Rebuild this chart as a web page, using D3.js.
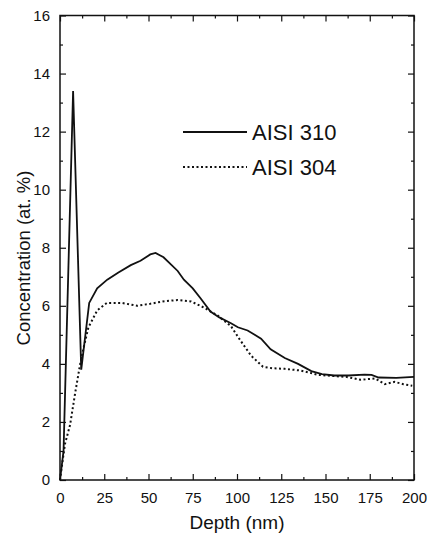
<!DOCTYPE html>
<html lang="en">
<head>
<meta charset="utf-8">
<title>Concentration vs depth</title>
<script src="https://d3js.org/d3.v7.min.js"></script>
<style>
  body { margin: 0; background: #fff; }
  svg text { font-family: "Liberation Sans", Arial, sans-serif; fill: #111; }
</style>
</head>
<body>
<script>
// data
const depth310 = [0, 2, 7.4, 12, 16.5, 21, 26.7, 33, 40, 45.5, 51, 54, 58.5, 66.5, 70, 75, 79.5, 85, 90, 96.6, 100.5, 106, 110, 113.6, 119, 127, 134.5, 142, 148, 155, 163, 172, 176, 180, 190, 200];
const conc310  = [0, 1.0, 13.4, 3.8, 6.1, 6.6, 6.9, 7.15, 7.4, 7.55, 7.77, 7.82, 7.67, 7.2, 6.9, 6.6, 6.25, 5.8, 5.6, 5.4, 5.26, 5.15, 5.0, 4.87, 4.5, 4.2, 4.0, 3.75, 3.65, 3.6, 3.6, 3.63, 3.62, 3.53, 3.52, 3.55];

const depth304 = [0, 2.8, 5.7, 8.5, 11.4, 13, 16, 21, 26.5, 35, 43.6, 51, 58, 66.5, 74, 81, 89, 96.6, 102, 108, 114.7, 120, 127, 136, 146, 155, 162, 170, 178, 183.5, 189, 194, 199];
const conc304  = [0, 1.24, 1.9, 2.97, 4.0, 4.46, 5.25, 5.84, 6.1, 6.1, 6.0, 6.07, 6.15, 6.2, 6.15, 5.95, 5.67, 5.3, 4.8, 4.28, 3.9, 3.85, 3.83, 3.77, 3.62, 3.58, 3.55, 3.45, 3.5, 3.3, 3.38, 3.3, 3.25];

const xTicks = [0, 25, 50, 75, 100, 125, 150, 175, 200];
const yTicks = [0, 2, 4, 6, 8, 10, 12, 14, 16];
const seriesNames = ["AISI 310", "AISI 304"];

const W = 427, H = 533;
const margin = {top: 15.5, right: 13, bottom: 53, left: 60};
const width = W - margin.left - margin.right,
      height = H - margin.top - margin.bottom;

const svg = d3.select("body").append("svg")
    .attr("width", W)
    .attr("height", H);

const g = svg.append("g")
    .attr("transform", "translate(" + margin.left + "," + margin.top + ")");

const x = d3.scaleLinear().domain([0, 200]).range([0, width]);
const y = d3.scaleLinear().domain([0, 16]).range([height, 0]);

// minor ticks halfway between majors
const xMinor = d3.range(12.5, 200, 25);
const yMinor = d3.range(1, 16, 2);

// bottom axis with labels, ticks pointing in
g.append("g")
    .attr("transform", "translate(0," + height + ")")
    .call(d3.axisBottom(x).tickValues(xTicks).tickSizeInner(-6).tickSizeOuter(0).tickPadding(12))
    .call(a => a.select(".domain").remove())
    .selectAll("text").style("font-size", "15px");
g.append("g")
    .attr("transform", "translate(0," + height + ")")
    .call(d3.axisBottom(x).tickValues(xMinor).tickSizeInner(-3).tickSizeOuter(0).tickFormat(""))
    .call(a => a.select(".domain").remove());

// top axis, ticks only
g.append("g")
    .call(d3.axisTop(x).tickValues(xTicks).tickSizeInner(-6).tickSizeOuter(0).tickFormat(""))
    .call(a => a.select(".domain").remove());
g.append("g")
    .call(d3.axisTop(x).tickValues(xMinor).tickSizeInner(-3).tickSizeOuter(0).tickFormat(""))
    .call(a => a.select(".domain").remove());

// left axis
g.append("g")
    .call(d3.axisLeft(y).tickValues(yTicks).tickSizeInner(-6).tickSizeOuter(0).tickPadding(10))
    .call(a => a.select(".domain").remove())
    .selectAll("text").style("font-size", "15px");
g.append("g")
    .call(d3.axisLeft(y).tickValues(yMinor).tickSizeInner(-3).tickSizeOuter(0).tickFormat(""))
    .call(a => a.select(".domain").remove());

// right axis
g.append("g")
    .attr("transform", "translate(" + width + ",0)")
    .call(d3.axisRight(y).tickValues(yTicks).tickSizeInner(-6).tickSizeOuter(0).tickFormat(""))
    .call(a => a.select(".domain").remove());
g.append("g")
    .attr("transform", "translate(" + width + ",0)")
    .call(d3.axisRight(y).tickValues(yMinor).tickSizeInner(-3).tickSizeOuter(0).tickFormat(""))
    .call(a => a.select(".domain").remove());

g.selectAll(".tick line").attr("stroke", "#111").attr("stroke-width", 1.2);

// frame
g.append("rect")
    .attr("width", width)
    .attr("height", height)
    .attr("fill", "none")
    .attr("stroke", "#111")
    .attr("stroke-width", 1.5);

// lines
const line = d3.line()
    .x(d => x(d[0]))
    .y(d => y(d[1]));

g.append("path")
    .datum(d3.zip(depth310, conc310))
    .attr("d", line)
    .attr("fill", "none")
    .attr("stroke", "#111")
    .attr("stroke-width", 1.8);

g.append("path")
    .datum(d3.zip(depth304, conc304))
    .attr("d", line)
    .attr("fill", "none")
    .attr("stroke", "#111")
    .attr("stroke-width", 2)
    .attr("stroke-dasharray", "2,2.5");

// legend
const legend = g.append("g");
[0, 1].forEach(i => {
    const ly = 116.5 + i * 35;
    legend.append("line")
        .attr("x1", 123).attr("x2", 187)
        .attr("y1", ly).attr("y2", ly)
        .attr("stroke", "#111")
        .attr("stroke-width", i === 0 ? 1.8 : 2)
        .attr("stroke-dasharray", i === 0 ? null : "2,2.5");
    legend.append("text")
        .attr("x", 192)
        .attr("y", ly + 8)
        .style("font-size", "22px")
        .text(seriesNames[i]);
});

// axis titles
svg.append("text")
    .attr("x", margin.left + width / 2)
    .attr("y", 529)
    .attr("text-anchor", "middle")
    .style("font-size", "19px")
    .text("Depth (nm)");

svg.append("text")
    .attr("transform", "translate(30,258) rotate(-90)")
    .attr("text-anchor", "middle")
    .style("font-size", "18.5px")
    .text("Concentration (at. %)");
</script>
</body>
</html>
